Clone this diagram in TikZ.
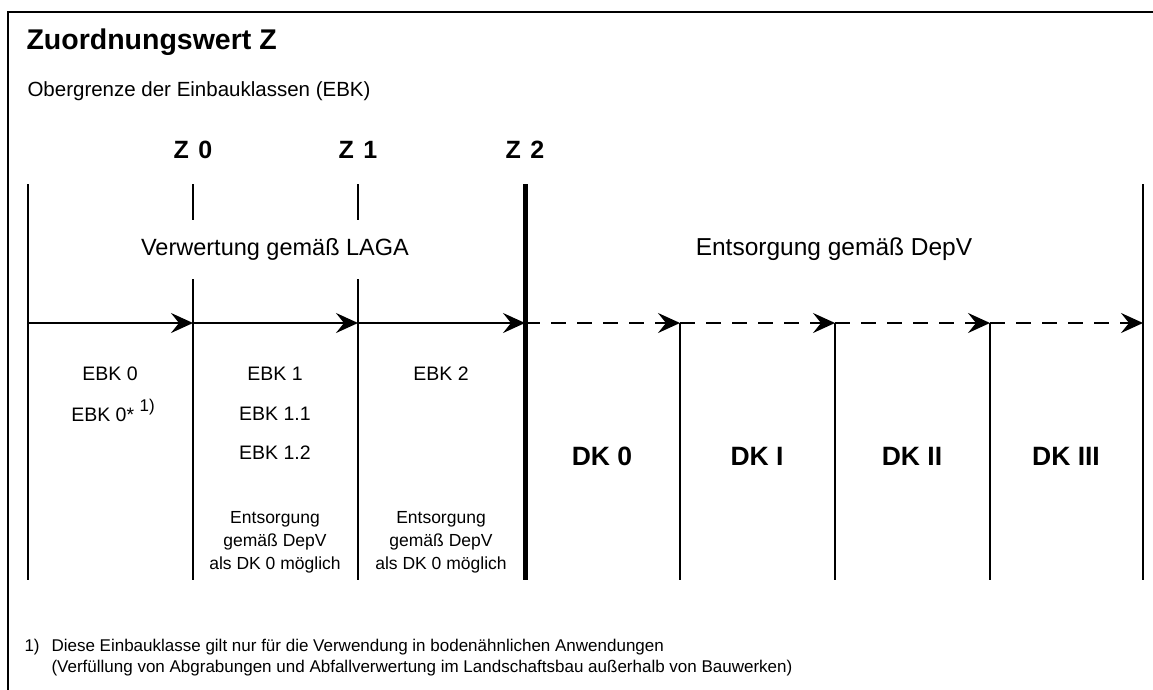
\documentclass[tikz,border=0pt]{standalone}
\usepackage{fontspec}
\setmainfont{Liberation Sans}
\usetikzlibrary{arrows.meta}
\newcommand\mypx{1pt}

\begin{document}
\begin{tikzpicture}[x=\mypx,y=-\mypx,
		grenze/.style={line width=2.4pt},
		pfeil/.style={line width=2.4pt,-{Stealth[length=22pt,width=20pt,inset=8pt]}},
		pfeilgestr/.style={pfeil,dash pattern=on 15pt off 11pt},
		ebk/.style={anchor=base,font=\fontsize{19.5}{20}\selectfont},
		klein/.style={anchor=north,inner sep=0pt,align=center,font=\fontsize{17.5}{23}\selectfont},
		dk/.style={anchor=base,font=\fontsize{26.5}{27}\selectfont\bfseries},
		zwert/.style={anchor=base,font=\fontsize{25}{26}\selectfont\bfseries},
		fussnote/.style={anchor=base west,font=\fontsize{17}{20}\selectfont}]
			\useasboundingbox (0,0) rectangle (1153,690);
			% Rahmen
			\draw[line width=2pt] (8,690) -- (8,12) -- (1153,12);
			\node[anchor=base west,font=\fontsize{28.5}{29}\selectfont\bfseries] (titel) at (23,50) {Zuordnungswert Z};
			\node[anchor=base west,font=\fontsize{20.5}{22}\selectfont] (untertitel) at (24,97) {Obergrenze der Einbauklassen (EBK)};
			% Zuordnungswerte
			\node[zwert] (z0) at (193,158) {Z\hspace{0.38em}0};
			\node[zwert] (z1) at (358,158) {Z\hspace{0.38em}1};
			\node[zwert] (z2) at (525,158) {Z\hspace{0.38em}2};
			% Grenzen
			\draw[grenze] (28,184) -- (28,580);
			\draw[grenze] (193,184) -- (193,220) (193,279) -- (193,580);
			\draw[grenze] (358,184) -- (358,220) (358,279) -- (358,580);
			\draw[line width=5pt] (525,184) -- (525,580);
			\foreach \x in {680,835,990}
				\draw[grenze] (\x,323) -- (\x,580);
			\draw[grenze] (1143,184) -- (1143,580);
			% Pfeile
			\foreach \n/\x in {p0/28,p1/193,p2/358,p3/525,p4/680,p5/835,p6/990,p7/1143}
				\coordinate (\n) at (\x,323);
			\draw[pfeil] (p0) -- (p1);
			\draw[pfeil] (p1) -- (p2);
			\draw[pfeil] (p2) -- (p3);
			\draw[pfeilgestr] (p3) -- (p4);
			\draw[pfeilgestr] (p4) -- (p5);
			\draw[pfeilgestr] (p5) -- (p6);
			\draw[pfeilgestr] (p6) -- (p7);
			\node[anchor=base,font=\fontsize{23.5}{24}\selectfont] (laga) at (275,255) {Verwertung gemäß LAGA};
			\node[anchor=base,font=\fontsize{24.5}{25}\selectfont] (depv) at (834,255) {Entsorgung gemäß DepV};
			% Einbauklassen
			\node[ebk] (ebk0) at (110,380) {EBK 0};
			\node[ebk] (ebk0s) at (113,421) {EBK 0* {\fontsize{17}{17}\selectfont\raisebox{10pt}{1)}}};
			\node[ebk] (ebk1) at (275,380) {EBK 1};
			\node[ebk] (ebk11) at (275,420) {EBK 1.1};
			\node[ebk] (ebk12) at (275,459) {EBK 1.2};
			\node[ebk] (ebk2) at (441,380) {EBK 2};
			\node[klein] (dk0a) at (275,511) {Entsorgung\\gemäß DepV\\als DK 0 möglich};
			\node[klein] (dk0b) at (441,511) {Entsorgung\\gemäß DepV\\als DK 0 möglich};
			% Deponieklassen
			\node[dk] (dk0) at (602,465) {DK 0};
			\node[dk] (dk1) at (757,465) {DK I};
			\node[dk] (dk2) at (912,465) {DK II};
			\node[dk] (dk3) at (1066,465) {DK III};
			% Fussnote
			\node[fussnote] (fnnr) at (21,651) {1)};
			\node[fussnote] (fnz1) at (48,651) {Diese Einbauklasse gilt nur für die Verwendung in bodenähnlichen Anwendungen};
			\node[fussnote] (fnz2) at (48,672) {(Verfüllung von Abgrabungen und Abfallverwertung im Landschaftsbau außerhalb von Bauwerken)};
\end{tikzpicture}
\end{document}
